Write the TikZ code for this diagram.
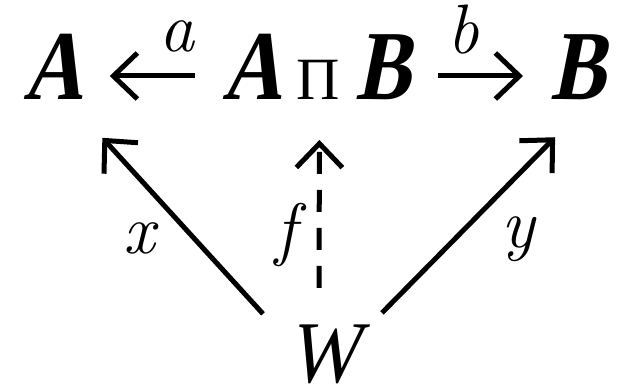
\documentclass[tikz,border=0pt]{standalone}
\usepackage{fontspec}
\newfontfamily\capfont{Liberation Serif}[FakeSlant=0.2, FakeStretch=0.83]
\newfontfamily\wfont{Liberation Serif}[FakeSlant=0.2, FakeStretch=0.85]
\newfontfamily\pifont{Liberation Serif}
\usetikzlibrary{arrows.meta, positioning, calc}
\tikzset{
	obj/.style={inner sep=0pt, font=\capfont\fontsize{99}{99}\selectfont\bfseries},
	wobj/.style={inner sep=0pt, font=\wfont\fontsize{88}{88}\selectfont},
	lbl/.style={inner sep=0pt, font=\fontsize{70}{70}\selectfont\itshape},
	arr/.style={-{Straight Barb[length=24pt, width=46pt]}, line width=5pt},
	harr/.style={arr, shorten <=27pt, shorten >=27pt},
	dasharr/.style={arr, dash pattern=on 22pt off 16pt},
}

\begin{document}
\begin{tikzpicture}[x=1pt, y=-1pt]
	\useasboundingbox (0,0) rectangle (622,385);
	\node[obj, anchor=base west] (A) at (23,100) {A};
	\node[obj, anchor=base west] (P) at (222,100) {A\hspace{15pt}{\pifont\fontsize{60}{60}\selectfont\mdseries Π}\hspace{16pt}B};
	\node[obj, anchor=base west] (B) at (550,100) {B};
	\node[wobj, anchor=base] (W) at (324,382) {W};
	\draw[harr] ([yshift=24pt]P.base west) -- node[lbl, pos=0.32, above=21pt] {a} ([yshift=24pt]A.base east);
	\draw[harr] ([yshift=24pt]P.base east) -- node[lbl, pos=0.38, above=19pt] {b} ([yshift=24pt]B.base west);
	\draw[arr] ([shift={(-61,-40)}]W.center) -- node[lbl, pos=0.43, left=36pt] {x} ([shift={(49.5,70.5)}]A.center);
	\draw[dasharr] ([shift={(-5,-66)}]W.center) -- node[lbl, pos=0.36, left=20pt] {f} ([shift={(3,72.5)}]P.center);
	\draw[arr] ([shift={(58,-41)}]W.center) -- node[lbl, pos=0.42, right=44pt] {y} ([shift={(-22.5,69.5)}]B.center);
\end{tikzpicture}
\end{document}
